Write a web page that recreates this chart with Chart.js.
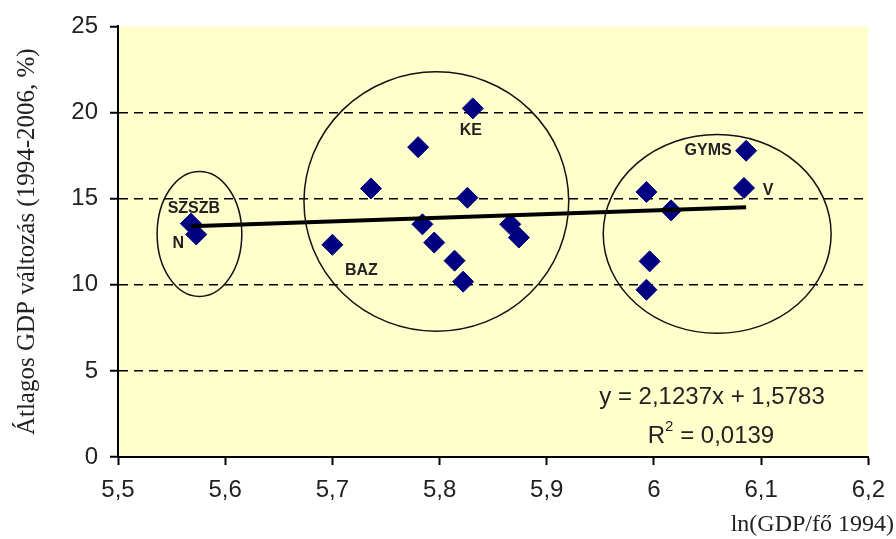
<!DOCTYPE html>
<html>
<head>
<meta charset="utf-8">
<script src="https://cdn.jsdelivr.net/npm/chart.js@4"></script>
<style>
  html, body { margin: 0; padding: 0; background: #fff; }
  #wrap { width: 896px; height: 539px; }
</style>
</head>
<body>
<div id="wrap"><canvas id="myChart" width="896" height="539"></canvas></div>
<script>
// county data: ln(GDP per capita 1994) vs average GDP change
const lnGdp = [5.568, 5.573, 5.700, 5.736, 5.780, 5.784, 5.795, 5.814, 5.822, 5.826, 5.831,
  5.866, 5.874, 5.993, 5.993, 5.996, 6.016, 6.084, 6.086];
const gdpChange = [13.55, 12.92, 12.32, 15.59, 17.99, 13.51, 12.45, 11.40, 10.18, 15.05, 20.24,
  13.51, 12.74, 15.39, 9.71, 11.36, 14.32, 15.62, 17.78];
const pointNames = ["SZSZB", "N", "BAZ", "", "", "", "", "", "", "", "KE",
  "", "", "", "", "", "", "V", "GYMS"];

// linear trend (from the chart's equation)
const slope = 2.1237;
const intercept = 1.5783;
const rSquared = "0,0139";

// circled groups: centre x, centre y, radius x, radius y (data units)
const groupX = [5.576, 5.797, 6.059];
const groupY = [12.95, 14.83, 12.95];
const groupRx = [0.0395, 0.1235, 0.1063];
const groupRy = [3.63, 7.53, 5.77];

const xTicks = [5.5, 5.6, 5.7, 5.8, 5.9, 6.0, 6.1, 6.2];
const yTicks = [0, 5, 10, 15, 20, 25];

// label offsets in px
const labelOffset = {
  SZSZB: [3, -15], N: [-18, 9], BAZ: [29, 26], KE: [-2, 22], V: [24, 3], GYMS: [-38, 0]
};

const xMin = Math.min(...lnGdp), xMax = Math.max(...lnGdp);
const trend = [
  { x: xMin, y: slope * xMin + intercept },
  { x: xMax, y: slope * xMax + intercept }
];

const fmt = (v) => String(Number(v.toFixed(1))).replace(".", ",");
const sans = "'Liberation Sans', Arial, sans-serif";
const serif = "'Liberation Serif', 'Times New Roman', serif";

const extras = {
  id: "extras",
  beforeDraw(chart) {
    const { ctx, chartArea: a } = chart;
    ctx.save();
    ctx.fillStyle = "#FFFFCC";
    ctx.fillRect(a.left, a.top, a.right - a.left, a.bottom - a.top);
    ctx.restore();
  },
  afterDatasetsDraw(chart) {
    const { ctx, scales: { x, y } } = chart;
    ctx.save();
    // group ellipses
    ctx.strokeStyle = "#111";
    ctx.lineWidth = 1.5;
    groupX.forEach((gx, i) => {
      const cx = x.getPixelForValue(gx), cy = y.getPixelForValue(groupY[i]);
      const rx = x.getPixelForValue(gx + groupRx[i]) - cx;
      const ry = cy - y.getPixelForValue(groupY[i] + groupRy[i]);
      ctx.beginPath();
      ctx.ellipse(cx, cy, rx, ry, 0, 0, Math.PI * 2);
      ctx.stroke();
    });
    // point names
    ctx.fillStyle = "#222";
    ctx.font = "bold 16px " + sans;
    ctx.textAlign = "center";
    ctx.textBaseline = "middle";
    pointNames.forEach((n, i) => {
      if (!n) return;
      const off = labelOffset[n];
      ctx.fillText(n, x.getPixelForValue(lnGdp[i]) + off[0], y.getPixelForValue(gdpChange[i]) + off[1]);
    });
    // equation
    ctx.font = "24px " + sans;
    const eq = "y = " + String(slope).replace(".", ",") + "x + " + String(intercept).replace(".", ",");
    ctx.fillText(eq, 712, 397);
    const rest = " = " + rSquared;
    const wR = ctx.measureText("R").width;
    ctx.font = "15px " + sans;
    const w2 = ctx.measureText("2").width;
    ctx.font = "24px " + sans;
    const wRest = ctx.measureText(rest).width;
    let sx = 711 - (wR + w2 + wRest) / 2;
    ctx.textAlign = "left";
    ctx.fillText("R", sx, 436);
    ctx.font = "15px " + sans;
    ctx.fillText("2", sx + wR, 427);
    ctx.font = "24px " + sans;
    ctx.fillText(rest, sx + wR + w2, 436);
    // x axis title
    ctx.font = "24px " + serif;
    ctx.textAlign = "right";
    ctx.fillText("ln(GDP/fő 1994)", 894, 525);
    ctx.restore();
  }
};

const ctx = document.getElementById("myChart");

new Chart(ctx, {
  type: "scatter",
  data: {
    datasets: [
      {
        type: "line",
        data: trend,
        borderColor: "#000",
        borderWidth: 4,
        pointRadius: 0,
        fill: false,
        order: 0,
      },
      {
        data: lnGdp.map((v, i) => ({ x: v, y: gdpChange[i] })),
        pointStyle: "rectRot",
        pointRadius: 10.5,
        pointHoverRadius: 10.5,
        backgroundColor: "#000080",
        borderColor: "#000080",
        borderWidth: 1,
        order: 1,
      },
    ],
  },
  options: {
    responsive: false,
    animation: false,
    layout: { padding: { top: 24, right: 24, left: 0, bottom: 0 } },
    scales: {
      x: {
        type: "linear",
        min: xTicks[0],
        max: xTicks[xTicks.length - 1],
        afterBuildTicks: (s) => { s.ticks = xTicks.map((v) => ({ value: v })); },
        afterFit: (s) => { s.height = 82; },
        ticks: {
          callback: (v) => fmt(v),
          font: { size: 24, family: sans },
          color: "#222",
          padding: 11,
        },
        grid: { drawOnChartArea: false, tickLength: 8, tickColor: "#000", tickWidth: 2 },
        border: { color: "#000", width: 2 },
      },
      y: {
        min: 0,
        max: 25,
        afterBuildTicks: (s) => { s.ticks = yTicks.map((v) => ({ value: v })); },
        afterFit: (s) => { s.width = 118; },
        ticks: {
          font: { size: 24, family: sans },
          color: "#222",
          padding: 12,
        },
        grid: {
          color: (c) => (c.tick && (c.tick.value === 0 || c.tick.value === 25) ? "rgba(0,0,0,0)" : "#000"),
          lineWidth: 1.5,
          tickLength: 8,
          tickColor: "#000",
          tickWidth: 2,
        },
        border: { color: "#000", width: 2, dash: [9, 6] },
        title: {
          display: true,
          text: "Átlagos GDP változás (1994-2006, %)",
          font: { size: 25, family: serif },
          color: "#222",
          padding: { top: 12, bottom: 0 },
        },
      },
    },
    plugins: {
      legend: { display: false },
      tooltip: { enabled: false },
    },
  },
  plugins: [extras],
});
</script>
</body>
</html>
